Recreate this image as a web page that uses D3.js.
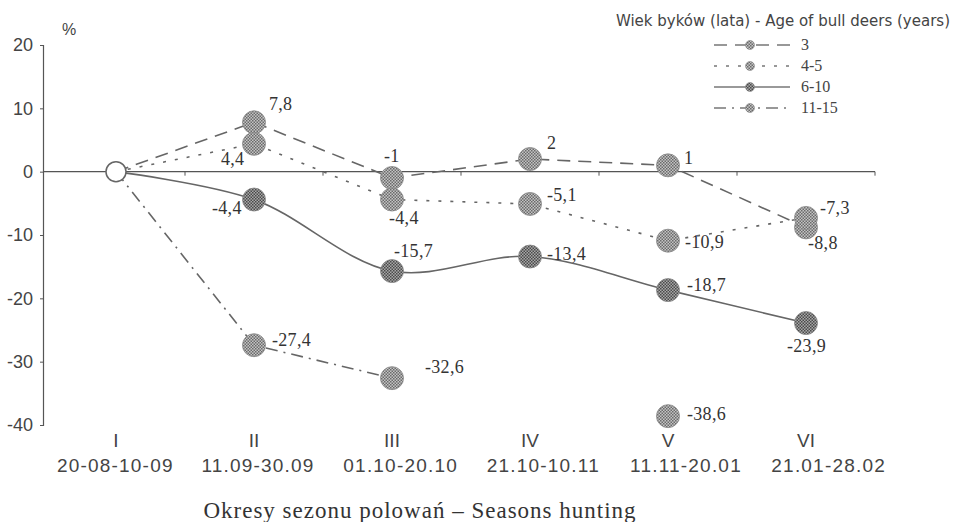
<!DOCTYPE html>
<html><head><meta charset="utf-8">
<script src="https://cdn.jsdelivr.net/npm/d3@7"></script>
<style>body{margin:0;background:#fff}svg{display:block}</style>
</head><body>
<script>
const periods = ["I","II","III","IV","V","VI"];
const periodDates = ["20-08-10-09","11.09-30.09","01.10-20.10","21.10-10.11","11.11-20.01","21.01-28.02"];
const seriesNames = ["3","4-5","6-10","11-15"];
const values3   = [0, 7.8, -1, 2, 1, -8.8];
const values45  = [0, 4.4, -4.4, -5.1, -10.9, -7.3];
const values610 = [0, -4.4, -15.7, -13.4, -18.7, -23.9];
const values1115= [0, -27.4, -32.6, null, -38.6, null];
const yTicks = [20, 10, 0, -10, -20, -30, -40];

const allValues = [values3, values45, values610, values1115];
// label placement (dx, dy relative to point)
const labelPos = [
  [null,[15,-12],[-8,-16],[17,-10],[16,-1],[2,22]],
  [null,[-33,21],[-3,24],[17,-3],[17,7],[14,-4]],
  [null,[-42,14],[2,-14],[17,3],[19,1],[-19,29]],
  [null,[18,1],[33,-5],null,[19,4],null]
];

const W=955,H=522;
const svg=d3.select("body").append("svg").attr("width",W).attr("height",H);
const defs=svg.append("defs");
function pat(id,bg,fg){
  const p=defs.append("pattern").attr("id",id).attr("width",3).attr("height",3).attr("patternUnits","userSpaceOnUse");
  p.append("rect").attr("width",3).attr("height",3).attr("fill",bg);
  p.append("rect").attr("width",1.5).attr("height",1.5).attr("fill",fg);
  p.append("rect").attr("x",1.5).attr("y",1.5).attr("width",1.5).attr("height",1.5).attr("fill",fg);
}
pat("ht","#c4c4c4","#6a6a6a");
pat("htd","#a8a8a8","#4a4a4a");

const x=d3.scaleBand().domain(periods).range([47,875]);
const xl=d3.scaleBand().domain(periods).range([44,900]);
const y=d3.scaleLinear().domain([-40,20]).range([425,45]);
const cx=p=>x(p)+x.bandwidth()/2;

const axisCol="#555";
const sans="Liberation Sans, Arial, sans-serif";
const serif="Liberation Serif, Times New Roman, serif";
// Y axis
const ya=svg.append("g").attr("transform","translate(43,0)")
  .call(d3.axisLeft(y).tickValues(yTicks).tickSize(3).tickPadding(7).tickFormat(d=>d));
ya.select(".domain").attr("stroke",axisCol).attr("stroke-width",1.2);
ya.selectAll(".tick line").attr("stroke",axisCol);
ya.selectAll("text").attr("font-family",sans).attr("font-size",18).attr("fill","#444");
svg.append("text").attr("x",62).attr("y",35).text("%").attr("font-family",sans).attr("font-size",16).attr("fill","#444");

// X axis at zero
const xa=svg.append("g").attr("transform",`translate(0,${y(0)})`)
  .call(d3.axisBottom(x).tickSize(0).tickFormat(""));
xa.select(".domain").attr("stroke",axisCol).attr("stroke-width",1.2).attr("d","M43,0H875");
const bounds=periods.slice(1).map(p=>x(p)).concat([x.range()[1]]);
svg.append("g").selectAll("line").data(bounds).join("line")
  .attr("x1",d=>d).attr("x2",d=>d).attr("y1",y(0)).attr("y2",y(0)+4).attr("stroke",axisCol);

// category labels
const cat=svg.append("g").attr("font-family",sans).attr("fill","#444").attr("text-anchor","middle");
cat.selectAll(".r").data(periods).join("text").attr("x",d=>cx(d)).attr("y",447).attr("font-size",19).text(d=>d);
cat.selectAll(".d").data(periods).join("text").attr("x",d=>xl(d)+xl.bandwidth()/2).attr("y",472)
  .attr("font-size",19).attr("letter-spacing",1.2).text((d,i)=>periodDates[i]);
svg.append("text").attr("x",420).attr("y",518).attr("text-anchor","middle")
  .attr("font-family",serif).attr("font-size",23).attr("letter-spacing",1).attr("fill","#333")
  .text("Okresy sezonu polowań – Seasons hunting");

const styles=[
  {dash:"13,8",curve:d3.curveLinear,fill:"url(#ht)"},
  {dash:"3,9",curve:d3.curveLinear,fill:"url(#ht)"},
  {dash:null,curve:d3.curveCatmullRom.alpha(0.5),fill:"url(#htd)"},
  {dash:"12,6,2,6",curve:d3.curveLinear,fill:"url(#ht)"}
];

allValues.forEach((vals,si)=>{
  const pts=periods.map((p,i)=>({p,v:vals[i]}));
  const line=d3.line().defined(d=>d.v!==null).x(d=>cx(d.p)).y(d=>y(d.v)).curve(styles[si].curve);
  svg.append("path").datum(pts).attr("d",line).attr("fill","none").attr("stroke","#666")
    .attr("stroke-width",1.6).attr("stroke-dasharray",styles[si].dash);
});
// points
allValues.forEach((vals,si)=>{
  const pts=periods.map((p,i)=>({p,v:vals[i],i})).filter(d=>d.v!==null&&d.i>0);
  svg.append("g").selectAll("circle").data(pts).join("circle")
    .attr("cx",d=>cx(d.p)).attr("cy",d=>y(d.v)).attr("r",11.5)
    .attr("fill",styles[si].fill).attr("stroke","#888").attr("stroke-width",0.8);
});
// start point
svg.append("circle").attr("cx",cx(periods[0])).attr("cy",y(0)).attr("r",10)
  .attr("fill","#fff").attr("stroke","#666").attr("stroke-width",1.5);

// value labels
allValues.forEach((vals,si)=>{
  vals.forEach((v,i)=>{
    const lp=labelPos[si][i];
    if(v===null||!lp) return;
    svg.append("text").attr("x",cx(periods[i])+lp[0]).attr("y",y(v)+lp[1])
      .attr("font-family",serif).attr("font-size",18).attr("letter-spacing",0.3).attr("fill","#333")
      .text(String(v).replace(".",","));
  });
});

// legend
svg.append("text").attr("x",950).attr("y",26).attr("text-anchor","end")
  .attr("font-family","DejaVu Sans, Verdana, sans-serif").attr("font-size",15).attr("fill","#444")
  .text("Wiek byków (lata) - Age of bull deers (years)");
const lg=svg.append("g");
seriesNames.forEach((n,i)=>{
  const yy=45+i*21;
  lg.append("line").attr("x1",714).attr("x2",790).attr("y1",yy).attr("y2",yy).attr("stroke","#777")
    .attr("stroke-width",1.4).attr("stroke-dasharray",styles[i].dash);
  lg.append("circle").attr("cx",750).attr("cy",yy).attr("r",4.5).attr("fill",styles[i].fill).attr("stroke","#888").attr("stroke-width",0.6);
  lg.append("text").attr("x",801).attr("y",yy+5).text(n)
    .attr("font-family",serif).attr("font-size",16).attr("fill","#444");
});
</script>
</body></html>
